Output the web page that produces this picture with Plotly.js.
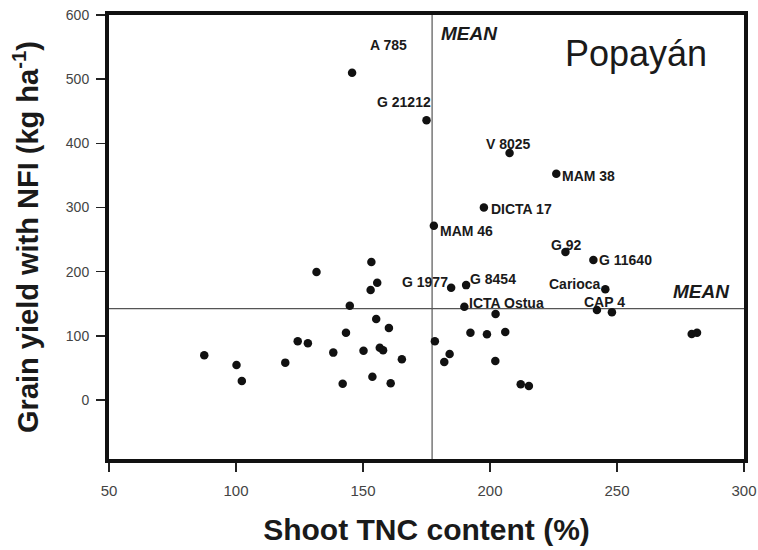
<!DOCTYPE html>
<html>
<head>
<meta charset="utf-8">
<script src="https://cdn.plot.ly/plotly-3.0.1.min.js"></script>
<style>html,body{margin:0;padding:0;background:#fff;}#chart{width:758px;height:550px;}</style>
</head>
<body>
<div id="chart"></div>
<script>
// Genotype labels (empty = unlabeled point)
const genotypes = ["A 785","G 21212","V 8025","MAM 38","DICTA 17","MAM 46","G 92","G 11640",
  "G 1977","G 8454","Carioca","ICTA Ostua","CAP 4",
  "","","","","","","","","","","","","","","","","","","","","","","","","","","","","","","","","","",""];
// Shoot TNC content (%)
const tncContent = [145.7,175.0,207.7,226.1,197.6,177.9,229.7,240.7,
  184.7,190.6,245.4,189.9,242.1,
  248.0,131.7,153.3,155.6,153.0,144.8,155.2,160.2,143.3,138.3,150.2,156.6,157.9,165.3,153.7,142.0,160.9,
  178.3,184.1,182.0,192.3,202.2,198.8,206.0,202.1,212.1,215.3,279.4,281.5,87.5,100.2,102.3,119.4,124.3,128.3];
// Grain yield with NFI (kg/ha)
const grainYield = [510,436,385,352.5,300,271.5,230.5,218.3,
  175,179,172.7,145.4,140.2,
  136.6,199.5,215,182.8,171.4,147,126.2,112.2,104.9,73.8,76.8,81.5,77.4,63.4,36.3,25.4,26,
  91.4,71.7,59.2,104.9,134,102.4,106,60.8,24.4,21.8,102.9,104.9,69.6,54.5,29.6,58.2,91.4,88.3];
const meanTNC = 177.2;
const meanYield = 142.5;
const xTicks = [50,100,150,200,250,300];
const yTicks = [0,100,200,300,400,500,600];

// label placement (pixel offsets relative to point)
const labelStyle = {
  "A 785":      {xanchor:"center", xs:36,  ys:28},
  "G 21212":    {xanchor:"center", xs:-23, ys:18},
  "V 8025":     {xanchor:"center", xs:-1,  ys:9},
  "MAM 38":     {xanchor:"left",   xs:4,   ys:-2},
  "DICTA 17":   {xanchor:"left",   xs:5,   ys:-2},
  "MAM 46":     {xanchor:"left",   xs:4,   ys:-5},
  "G 92":       {xanchor:"center", xs:1,   ys:7},
  "G 11640":    {xanchor:"left",   xs:4,   ys:0},
  "G 1977":     {xanchor:"center", xs:-26, ys:6},
  "G 8454":     {xanchor:"left",   xs:2,   ys:6},
  "Carioca":    {xanchor:"right",  xs:-2,  ys:5},
  "ICTA Ostua": {xanchor:"left",   xs:3,   ys:4},
  "CAP 4":      {xanchor:"center", xs:8,   ys:8}
};

const FONT = "Liberation Sans, Arial, Helvetica, sans-serif";

const annotations = [];
genotypes.forEach((g, i) => {
  if (!g) return;
  const s = labelStyle[g];
  annotations.push({
    x: tncContent[i], y: grainYield[i], xref: "x", yref: "y",
    text: "<b>" + g + "</b>", showarrow: false,
    xanchor: s.xanchor, yanchor: "middle", xshift: s.xs, yshift: s.ys,
    font: {family: FONT, size: 14, color: "#1a1a1a"}
  });
});
annotations.push({
  x: meanTNC, y: 600, xref: "x", yref: "y", text: "<b><i>MEAN</i></b>", showarrow: false,
  xanchor: "left", yanchor: "middle", xshift: 7, yshift: -18,
  font: {family: FONT, size: 19, color: "#1a1a1a"}
});
annotations.push({
  x: 300, y: meanYield, xref: "x", yref: "y", text: "<b><i>MEAN</i></b>", showarrow: false,
  xanchor: "right", yanchor: "middle", xshift: -12, yshift: 17,
  font: {family: FONT, size: 19, color: "#1a1a1a"}
});
annotations.push({
  x: 0.83, y: 0.914, xref: "paper", yref: "paper", text: "Popayán", showarrow: false,
  xanchor: "center", yanchor: "middle",
  font: {family: FONT, size: 36, color: "#1a1a1a"}
});

const trace = {
  x: tncContent, y: grainYield, mode: "markers", type: "scatter",
  marker: {color: "#111", size: 8.5},
  text: genotypes, hoverinfo: "x+y+text"
};

const layout = {
  width: 758, height: 550,
  margin: {l: 109, r: 14, t: 15, b: 91},
  paper_bgcolor: "#fff", plot_bgcolor: "#fff",
  showlegend: false,
  font: {family: FONT, color: "#333"},
  xaxis: {
    range: [50, 300], tickvals: xTicks, ticktext: xTicks.map(String),
    showgrid: false, zeroline: false,
    showline: true, linecolor: "#111", linewidth: 4, mirror: true,
    ticks: "outside", ticklen: 9, tickwidth: 1.5, tickcolor: "#222",
    tickfont: {family: FONT, size: 15, color: "#444"},
    ticklabelstandoff: 6,
    title: {text: "<b>Shoot TNC content (%)</b>", font: {family: FONT, size: 30, color: "#1a1a1a"}, standoff: 22}
  },
  yaxis: {
    range: [-92, 600], tickvals: yTicks, ticktext: yTicks.map(String),
    showgrid: false, zeroline: false,
    showline: true, linecolor: "#111", linewidth: 4, mirror: true,
    ticks: "outside", ticklen: 9, tickwidth: 1.5, tickcolor: "#222",
    tickfont: {family: FONT, size: 14, color: "#444"},
    ticklabelstandoff: 4,
    title: {text: "<b>Grain yield with NFI (kg ha<sup>-1</sup>)</b>", font: {family: FONT, size: 29, color: "#1a1a1a"}, standoff: 20}
  },
  shapes: [
    {type: "line", xref: "x", yref: "y", x0: meanTNC, x1: meanTNC, y0: -92, y1: 600, line: {color: "#555", width: 1.2}, layer: "below"},
    {type: "line", xref: "x", yref: "y", x0: 50, x1: 300, y0: meanYield, y1: meanYield, line: {color: "#555", width: 1.2}, layer: "below"}
  ],
  annotations: annotations
};

Plotly.newPlot("chart", [trace], layout, {displayModeBar: false, staticPlot: true});
</script>
</body>
</html>
